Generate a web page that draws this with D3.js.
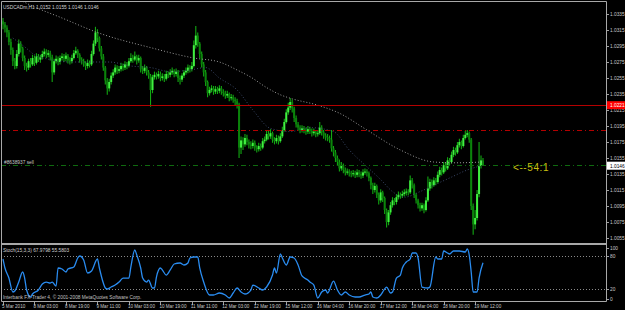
<!DOCTYPE html>
<html>
<head>
<meta charset="utf-8">
<script src="https://cdnjs.cloudflare.com/ajax/libs/d3/7.8.5/d3.min.js"></script>
<style>
  html, body { margin: 0; padding: 0; background: #000; }
  svg { display: block; }
  text { font-family: "Liberation Sans", Arial, sans-serif; }
</style>
</head>
<body>
<div id="chart"></div>
<script>
// USDCADm, H1 -- hourly bars 5 Mar 2010 .. 19 Mar 2010
var title = "USDCADm,H1  1.0152 1.0155 1.0146 1.0146";
var firstOpen = 1.0326;
var closes = [
  1.0322,1.0318,1.0312,1.0300,1.0290,1.0276,1.0270,1.0285,1.0298,1.0292,
  1.0280,1.0270,1.0268,1.0276,1.0272,1.0280,1.0274,1.0282,1.0278,1.0281,
  1.0285,1.0288,1.0284,1.0286,1.0281,1.0262,1.0276,1.0279,1.0275,1.0280,
  1.0282,1.0279,1.0283,1.0277,1.0276,1.0280,1.0286,1.0289,1.0284,1.0278,
  1.0276,1.0273,1.0270,1.0274,1.0272,1.0285,1.0298,1.0312,1.0305,1.0292,
  1.0282,1.0268,1.0252,1.0242,1.0250,1.0258,1.0262,1.0268,1.0264,1.0266,
  1.0270,1.0268,1.0272,1.0270,1.0276,1.0280,1.0278,1.0282,1.0277,1.0280,
  1.0266,1.0264,1.0268,1.0262,1.0258,1.0240,1.0256,1.0259,1.0257,1.0260,
  1.0255,1.0257,1.0254,1.0260,1.0259,1.0262,1.0264,1.0260,1.0263,1.0255,
  1.0253,1.0258,1.0262,1.0264,1.0268,1.0266,1.0270,1.0296,1.0308,1.0298,
  1.0285,1.0272,1.0262,1.0250,1.0236,1.0240,1.0242,1.0238,1.0241,1.0239,
  1.0242,1.0238,1.0236,1.0233,1.0235,1.0230,1.0231,1.0228,1.0226,1.0222,
  1.0168,1.0177,1.0172,1.0180,1.0175,1.0172,1.0170,1.0174,1.0168,1.0166,
  1.0170,1.0168,1.0176,1.0178,1.0185,1.0182,1.0186,1.0178,1.0176,1.0180,
  1.0176,1.0182,1.0190,1.0200,1.0212,1.0218,1.0225,1.0217,1.0205,1.0197,
  1.0193,1.0190,1.0192,1.0190,1.0188,1.0191,1.0189,1.0186,1.0188,1.0185,
  1.0186,1.0193,1.0187,1.0183,1.0181,1.0180,1.0178,1.0167,1.0162,1.0155,
  1.0150,1.0142,1.0146,1.0140,1.0137,1.0138,1.0136,1.0135,1.0136,1.0134,
  1.0137,1.0135,1.0133,1.0137,1.0138,1.0136,1.0130,1.0121,1.0115,1.0120,
  1.0109,1.0102,1.0112,1.0105,1.0090,1.0075,1.0087,1.0096,1.0102,1.0100,
  1.0106,1.0109,1.0108,1.0110,1.0112,1.0113,1.0112,1.0127,1.0121,1.0109,
  1.0102,1.0096,1.0092,1.0096,1.0090,1.0102,1.0117,1.0125,1.0121,1.0127,
  1.0125,1.0134,1.0140,1.0137,1.0146,1.0142,1.0152,1.0150,1.0159,1.0165,
  1.0162,1.0171,1.0175,1.0170,1.0180,1.0184,1.0186,1.0178,1.0095,1.0072,
  1.0080,1.0110,1.0145,1.0152,1.0146
];
var highs = [
  1.0330,1.0325,1.0321,1.0315,1.0304,1.0293,1.0280,1.0290,1.0303,1.0301,
  1.0294,1.0283,1.0274,1.0279,1.0280,1.0284,1.0283,1.0286,1.0285,1.0284,
  1.0289,1.0292,1.0291,1.0290,1.0289,1.0284,1.0279,1.0283,1.0282,1.0283,
  1.0286,1.0285,1.0287,1.0285,1.0281,1.0284,1.0290,1.0294,1.0291,1.0286,
  1.0281,1.0279,1.0276,1.0278,1.0277,1.0289,1.0302,1.0319,1.0316,1.0307,
  1.0295,1.0285,1.0270,1.0255,1.0254,1.0262,1.0266,1.0272,1.0271,1.0270,
  1.0274,1.0273,1.0276,1.0275,1.0280,1.0286,1.0284,1.0288,1.0284,1.0284,
  1.0282,1.0270,1.0272,1.0270,1.0265,1.0260,1.0259,1.0263,1.0262,1.0264,
  1.0263,1.0261,1.0260,1.0264,1.0263,1.0266,1.0268,1.0266,1.0267,1.0265,
  1.0258,1.0261,1.0265,1.0268,1.0272,1.0271,1.0275,1.0302,1.0320,1.0312,
  1.0300,1.0288,1.0275,1.0265,1.0252,1.0244,1.0246,1.0245,1.0245,1.0244,
  1.0246,1.0245,1.0241,1.0239,1.0239,1.0237,1.0235,1.0234,1.0231,1.0229,
  1.0224,1.0182,1.0181,1.0185,1.0184,1.0178,1.0176,1.0178,1.0177,1.0171,
  1.0174,1.0173,1.0180,1.0182,1.0190,1.0189,1.0191,1.0188,1.0181,1.0184,
  1.0183,1.0186,1.0194,1.0204,1.0216,1.0224,1.0230,1.0228,1.0219,1.0208,
  1.0200,1.0196,1.0196,1.0195,1.0193,1.0195,1.0194,1.0192,1.0192,1.0190,
  1.0190,1.0200,1.0196,1.0190,1.0186,1.0185,1.0183,1.0190,1.0170,1.0165,
  1.0158,1.0153,1.0150,1.0148,1.0143,1.0142,1.0141,1.0139,1.0140,1.0139,
  1.0141,1.0140,1.0138,1.0141,1.0142,1.0141,1.0138,1.0132,1.0124,1.0124,
  1.0122,1.0112,1.0116,1.0114,1.0107,1.0092,1.0090,1.0100,1.0106,1.0105,
  1.0110,1.0113,1.0112,1.0114,1.0116,1.0117,1.0116,1.0133,1.0130,1.0123,
  1.0111,1.0104,1.0099,1.0099,1.0098,1.0106,1.0132,1.0129,1.0128,1.0131,
  1.0130,1.0138,1.0144,1.0143,1.0150,1.0149,1.0156,1.0155,1.0163,1.0169,
  1.0168,1.0175,1.0179,1.0177,1.0184,1.0189,1.0190,1.0188,1.0180,1.0098,
  1.0090,1.0115,1.0175,1.0158,1.0155
];
var lows = [
  1.0316,1.0312,1.0306,1.0296,1.0284,1.0270,1.0266,1.0267,1.0282,1.0287,
  1.0276,1.0265,1.0263,1.0265,1.0268,1.0270,1.0270,1.0272,1.0275,1.0274,
  1.0278,1.0282,1.0280,1.0281,1.0277,1.0250,1.0259,1.0273,1.0271,1.0272,
  1.0277,1.0275,1.0276,1.0273,1.0272,1.0273,1.0278,1.0284,1.0280,1.0274,
  1.0272,1.0269,1.0265,1.0267,1.0268,1.0270,1.0283,1.0295,1.0300,1.0288,
  1.0278,1.0264,1.0247,1.0234,1.0238,1.0247,1.0255,1.0259,1.0260,1.0261,
  1.0263,1.0264,1.0265,1.0266,1.0268,1.0274,1.0274,1.0276,1.0272,1.0274,
  1.0262,1.0260,1.0261,1.0258,1.0254,1.0219,1.0236,1.0253,1.0253,1.0254,
  1.0251,1.0252,1.0250,1.0252,1.0255,1.0256,1.0259,1.0256,1.0257,1.0250,
  1.0247,1.0250,1.0255,1.0259,1.0261,1.0262,1.0263,1.0268,1.0292,1.0294,
  1.0280,1.0268,1.0257,1.0245,1.0231,1.0233,1.0237,1.0234,1.0235,1.0235,
  1.0236,1.0234,1.0232,1.0229,1.0230,1.0226,1.0227,1.0224,1.0221,1.0217,
  1.0155,1.0160,1.0165,1.0169,1.0171,1.0167,1.0166,1.0167,1.0164,1.0162,
  1.0163,1.0164,1.0166,1.0173,1.0176,1.0178,1.0179,1.0174,1.0172,1.0173,
  1.0172,1.0174,1.0180,1.0188,1.0198,1.0209,1.0215,1.0212,1.0200,1.0193,
  1.0189,1.0186,1.0187,1.0186,1.0184,1.0185,1.0185,1.0182,1.0183,1.0181,
  1.0182,1.0184,1.0183,1.0179,1.0177,1.0176,1.0174,1.0163,1.0157,1.0150,
  1.0145,1.0138,1.0139,1.0136,1.0133,1.0134,1.0132,1.0131,1.0132,1.0130,
  1.0131,1.0131,1.0129,1.0130,1.0134,1.0132,1.0126,1.0116,1.0110,1.0112,
  1.0105,1.0097,1.0099,1.0100,1.0085,1.0068,1.0071,1.0084,1.0093,1.0096,
  1.0097,1.0103,1.0104,1.0105,1.0107,1.0108,1.0108,1.0110,1.0117,1.0105,
  1.0098,1.0092,1.0088,1.0089,1.0086,1.0088,1.0100,1.0114,1.0117,1.0119,
  1.0121,1.0123,1.0131,1.0133,1.0135,1.0138,1.0140,1.0146,1.0148,1.0156,
  1.0158,1.0160,1.0168,1.0166,1.0168,1.0178,1.0181,1.0174,1.0090,1.0059,
  1.0066,1.0077,1.0106,1.0142,1.0146
];

// moving averages, read at sample bars
var slowMaBars = [6, 14, 29, 49, 75, 97, 110, 119, 126, 134, 141, 147, 160, 171, 185, 202, 219, 230, 244];
var slowMaValues = [1.0356, 1.0346, 1.0331, 1.0311, 1.0293, 1.0280, 1.0275, 1.0265, 1.0256, 1.0243, 1.0234, 1.0229, 1.0221, 1.0211, 1.0190, 1.0165, 1.0150, 1.0149, 1.0150];
var fastMaBars = [5, 11, 16, 24, 34, 44, 54, 65, 75, 85, 95, 103, 110, 119, 127, 136, 146, 156, 168, 176, 185, 192, 198, 204, 212, 219, 227, 236, 244];
var fastMaValues = [1.0305, 1.0294, 1.0284, 1.0278, 1.0275, 1.0275, 1.0275, 1.0270, 1.0268, 1.0263, 1.0265, 1.0268, 1.0255, 1.0240, 1.0215, 1.0192, 1.0188, 1.0193, 1.0188, 1.0165, 1.0144, 1.0128, 1.0113, 1.0106, 1.0113, 1.0121, 1.0130, 1.0140, 1.0146];

// horizontal levels: solid red, red dash-dot, order line (green dash-dot)
var levelPrices = [1.0221, 1.0190, 1.0146];
var orderLabel = "#8638937 sell";
var ratioLabel = "<--54:1";
var priceTicks = ["1.0335","1.0315","1.0295","1.0275","1.0255","1.0235","1.0215","1.0195",
                  "1.0175","1.0155","1.0135","1.0115","1.0095","1.0075","1.0055"];

// Stochastic (15,3,3) main line
var stochLabel = "Stoch(15,3,3) 67.9798 55.5803";
var stochBars = [0,1,3,5,6,8,10,11,12,14,15,18,20,22,24,25,27,28,30,32,33,36,38,39,41,43,45,48,49,51,52,53,55,57,59,61,64,65,67,68,70,71,73,74,76,77,78,80,81,83,85,87,90,92,94,95,97,99,100,102,105,107,110,113,115,117,119,121,123,126,127,130,132,134,137,138,139,141,142,144,146,148,150,152,155,156,158,160,162,164,165,168,170,172,174,176,179,181,184,186,187,188,190,192,193,195,197,198,200,202,203,205,207,208,210,211,213,216,217,220,221,223,224,226,227,229,232,235,236,237,238,239,241,242,244];
var stochValues = [74.6,58.4,40.3,15.1,16.9,33.1,51.2,40.3,18.7,6.1,11.5,18.7,29.5,33.1,31.3,33.1,25.9,58.4,56.6,51.2,56.6,60.2,76.4,80,72.8,49.4,53,74.6,58.4,31.3,22.3,20.5,24.1,27.7,33.1,40.3,40.3,60.2,90.8,81.8,58.4,40.3,33.1,36.7,22.3,22.3,42.1,58.4,54.8,45.7,54.8,65.6,67.4,63.8,67.4,76.4,78.2,78.2,58.4,33.1,9.7,9.7,13.3,9.7,4.3,13.3,22.3,15.1,11.5,18.7,27.7,22.3,18.7,24.1,45.7,58.4,49.4,83.6,76.4,63.8,78.2,76.4,63.8,44,36.7,33.1,27.7,4.3,15.1,18.7,13.3,34.9,18.7,9.7,15.1,9.7,6.1,6.1,9.7,11.5,15.1,6.1,4.3,9.7,15.1,24.1,13.3,15.1,40.3,45.7,58.4,69.2,74.6,85.4,85.4,76.4,24.1,22.3,24.1,78.2,74.6,74.6,89,85.4,83.6,89,89,87.2,92.6,81.8,51.2,15.1,15.1,40.3,67.9];
var stochTicks = [100, 80, 20, 0];
var stochLevels = [80, 20];

var timeTickBars = [0,16,32,48,64,80,96,112,128,144,160,176,192,208,224,240];
var timeLabels = ["5 Mar 2010","8 Mar 03:00","8 Mar 19:00","9 Mar 11:00","10 Mar 03:00","10 Mar 19:00",
                  "11 Mar 11:00","12 Mar 03:00","12 Mar 19:00","15 Mar 12:00","16 Mar 04:00","16 Mar 20:00",
                  "17 Mar 12:00","18 Mar 04:00","18 Mar 20:00","19 Mar 12:00"];
var footer = "Interbank FX-Trader 4, \u00a9 2001-2008 MetaQuotes Software Corp.";

var W = 625, H = 310;
var axisX = 606;
var fs = 4.8;

var svg = d3.select("#chart").append("svg")
    .attr("width", W)
    .attr("height", H)
    .style("background", "#000");

var x = d3.scaleLinear().domain([0, 244]).range([3, 483]);
var y = d3.scaleLinear().domain([1.0055, 1.0335]).range([238, 14]);
var ys = d3.scaleLinear().domain([0, 100]).range([300.4, 244.9]);

svg.append("clipPath").attr("id", "mainClip")
    .append("rect").attr("x", 1).attr("y", 2).attr("width", axisX - 1).attr("height", 241);
svg.append("clipPath").attr("id", "stochClip")
    .append("rect").attr("x", 1).attr("y", 245).attr("width", axisX - 1).attr("height", 56);

var main = svg.append("g").attr("clip-path", "url(#mainClip)");

// candles
var bars = closes.map(function (c, i) {
    return { i: i, o: i === 0 ? firstOpen : closes[i - 1], h: highs[i], l: lows[i], c: c };
});

main.selectAll("line.wick")
    .data(bars)
  .enter().append("line")
    .attr("class", "wick")
    .attr("x1", function (d) { return x(d.i); })
    .attr("x2", function (d) { return x(d.i); })
    .attr("y1", function (d) { return y(d.h); })
    .attr("y2", function (d) { return y(d.l); })
    .attr("stroke", "#12a812")
    .attr("stroke-width", 1.1);

main.selectAll("rect.body")
    .data(bars)
  .enter().append("rect")
    .attr("class", "body")
    .attr("x", function (d) { return x(d.i) - 1; })
    .attr("width", 2)
    .attr("y", function (d) { return y(Math.max(d.o, d.c)); })
    .attr("height", function (d) { return Math.max(1, Math.abs(y(d.o) - y(d.c))); })
    .attr("fill", function (d) { return d.c >= d.o ? "#40f040" : "#0b840b"; });

// moving averages (dotted)
var maLine = d3.line()
    .x(function (d) { return x(d[0]); })
    .y(function (d) { return y(d[1]); })
    .curve(d3.curveMonotoneX);

main.append("path")
    .datum(d3.zip(slowMaBars, slowMaValues))
    .attr("d", maLine)
    .attr("fill", "none")
    .attr("stroke", "#9a9a9a")
    .attr("stroke-width", 1)
    .attr("stroke-dasharray", "1,2");

main.append("path")
    .datum(d3.zip(fastMaBars, fastMaValues))
    .attr("d", maLine)
    .attr("fill", "none")
    .attr("stroke", "#3a4868")
    .attr("stroke-width", 1)
    .attr("stroke-dasharray", "1,2");

// levels
var levelColors = ["#b40000", "#b40000", "#0f6a0f"];
var levelDash = [null, "5,3,1,3", "5,3,1,3"];
main.selectAll("line.level")
    .data(levelPrices)
  .enter().append("line")
    .attr("class", "level")
    .attr("x1", 1).attr("x2", axisX)
    .attr("y1", function (d) { return Math.round(y(d)) + 0.5; })
    .attr("y2", function (d) { return Math.round(y(d)) + 0.5; })
    .attr("stroke", function (d, i) { return levelColors[i]; })
    .attr("stroke-width", 1)
    .attr("stroke-dasharray", function (d, i) { return levelDash[i]; });

main.append("text")
    .attr("x", 4).attr("y", y(levelPrices[2]) - 1.5)
    .attr("font-size", fs).attr("fill", "#c8c8c8")
    .text(orderLabel);

main.append("text")
    .attr("x", 513).attr("y", y(levelPrices[2]) + 6)
    .attr("font-size", 10).attr("fill", "#c8c010")
    .attr("letter-spacing", 0.6)
    .text(ratioLabel);

svg.append("text")
    .attr("x", 3).attr("y", 9)
    .attr("font-size", fs).attr("fill", "#d0d0d0")
    .text(title);

// price axis
var pAxis = svg.append("g");
pAxis.selectAll("line")
    .data(priceTicks)
  .enter().append("line")
    .attr("x1", axisX).attr("x2", axisX + 3)
    .attr("y1", function (d) { return Math.round(y(+d)) + 0.5; })
    .attr("y2", function (d) { return Math.round(y(+d)) + 0.5; })
    .attr("stroke", "#a0a0a0");
pAxis.selectAll("text")
    .data(priceTicks)
  .enter().append("text")
    .attr("x", axisX + 4)
    .attr("y", function (d) { return y(+d) + 2; })
    .attr("font-size", fs).attr("fill", "#c8c8c8")
    .text(function (d) { return d; });

// red label for solid level, white label for current price
svg.append("rect")
    .attr("x", axisX + 1).attr("y", y(levelPrices[0]) - 4)
    .attr("width", W - axisX - 1).attr("height", 8)
    .attr("fill", "#ff0000");
svg.append("text")
    .attr("x", axisX + 4).attr("y", y(levelPrices[0]) + 2)
    .attr("font-size", fs).attr("fill", "#ffffff")
    .text(levelPrices[0].toFixed(4));
svg.append("rect")
    .attr("x", axisX + 1).attr("y", y(closes[244]) - 3.5)
    .attr("width", W - axisX - 1).attr("height", 8)
    .attr("fill", "#ffffff");
svg.append("text")
    .attr("x", axisX + 4).attr("y", y(closes[244]) + 2.5)
    .attr("font-size", fs).attr("fill", "#000000")
    .text(closes[244].toFixed(4));

// stochastic panel
var stoch = svg.append("g");
stoch.selectAll("line.slev")
    .data(stochLevels)
  .enter().append("line")
    .attr("class", "slev")
    .attr("x1", 1).attr("x2", axisX)
    .attr("y1", function (d) { return Math.round(ys(d)) + 0.5; })
    .attr("y2", function (d) { return Math.round(ys(d)) + 0.5; })
    .attr("stroke", "#8a8a8a")
    .attr("stroke-dasharray", "1,2");

stoch.append("path")
    .datum(d3.zip(stochBars, stochValues))
    .attr("clip-path", "url(#stochClip)")
    .attr("d", d3.line()
        .x(function (d) { return x(d[0]); })
        .y(function (d) { return ys(d[1]); })
        .curve(d3.curveMonotoneX))
    .attr("fill", "none")
    .attr("stroke", "#2a8cf0")
    .attr("stroke-width", 1.3);

stoch.selectAll("text.stick")
    .data(stochTicks)
  .enter().append("text")
    .attr("class", "stick")
    .attr("x", axisX + 4)
    .attr("y", function (d) { return Math.max(248, Math.min(298.5, ys(d))) + 2; })
    .attr("font-size", fs).attr("fill", "#c8c8c8")
    .text(function (d) { return d; });
stoch.selectAll("line.stick")
    .data(stochTicks)
  .enter().append("line")
    .attr("class", "stick")
    .attr("x1", axisX).attr("x2", axisX + 3)
    .attr("y1", function (d) { return Math.round(Math.max(248, Math.min(298.5, ys(d)))) + 0.5; })
    .attr("y2", function (d) { return Math.round(Math.max(248, Math.min(298.5, ys(d)))) + 0.5; })
    .attr("stroke", "#a0a0a0");

stoch.append("text")
    .attr("x", 3).attr("y", 252)
    .attr("font-size", fs).attr("fill", "#d0d0d0")
    .text(stochLabel);
stoch.append("text")
    .attr("x", 3).attr("y", 299)
    .attr("font-size", fs).attr("fill", "#c0c0c0")
    .text(footer);

// frames
var frame = svg.append("g").attr("fill", "none").attr("stroke", "#a8a8a8");
frame.append("path").attr("d", "M1.5,243 V1.5 H" + (axisX + 0.5) + " V301.5 H1.5 V243");
frame.append("line").attr("x1", 1).attr("x2", axisX).attr("y1", 244).attr("y2", 244).attr("stroke-width", 2);

// time axis
var tAxis = svg.append("g");
tAxis.selectAll("line")
    .data(timeTickBars)
  .enter().append("line")
    .attr("x1", function (d) { return Math.round(x(d)) + 0.5; })
    .attr("x2", function (d) { return Math.round(x(d)) + 0.5; })
    .attr("y1", 302).attr("y2", 305)
    .attr("stroke", "#a0a0a0");
tAxis.selectAll("text")
    .data(timeTickBars)
  .enter().append("text")
    .attr("x", function (d) { return x(d) - 1; })
    .attr("y", 307.5)
    .attr("font-size", 4.6).attr("fill", "#c8c8c8")
    .text(function (d, i) { return timeLabels[i]; });
</script>
</body>
</html>
